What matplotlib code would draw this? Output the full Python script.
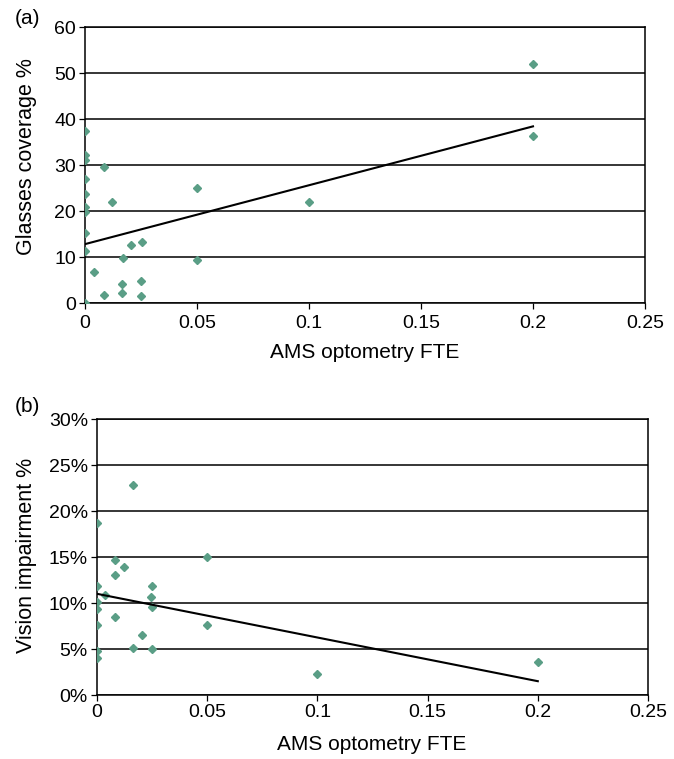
import matplotlib
matplotlib.use("Agg")
import matplotlib.pyplot as plt
from matplotlib.ticker import FuncFormatter

plt.rcParams['font.family'] = ['Liberation Sans', 'DejaVu Sans']

# (a) glasses coverage vs AMS optometry FTE
fte_a = [0, 0, 0, 0.0083, 0, 0, 0, 0, 0.012, 0.05, 0, 0, 0.0207, 0.0255,
         0.017, 0.05, 0.004, 0.0167, 0.025, 0.0083, 0.0167, 0.025, 0,
         0.1, 0.2, 0.2]
coverage_a = [37.4, 32.1, 31.0, 29.6, 27.0, 23.8, 20.8, 19.7, 22.0, 24.9,
              15.2, 11.2, 12.6, 13.2, 9.7, 9.35, 6.8, 4.1, 4.8, 1.7, 2.2,
              1.45, 0.0, 22.0, 52.0, 36.3]
trend_a_x = [0, 0.2]
trend_a_y = [12.8, 38.4]

# (b) vision impairment vs AMS optometry FTE
fte_b = [0.0162, 0, 0.05, 0.0083, 0.0124, 0.0083, 0, 0.025, 0.0038, 0.0245,
         0, 0, 0.025, 0.0083, 0, 0.05, 0.0206, 0.0162, 0.025, 0, 0,
         0.1, 0.2]
impairment_b = [22.8, 18.7, 15.0, 14.65, 13.9, 13.0, 11.8, 11.8, 10.85, 10.7,
                10.15, 9.3, 9.6, 8.5, 7.65, 7.6, 6.5, 5.15, 5.05, 4.8, 4.0,
                2.25, 3.6]
trend_b_x = [0, 0.2]
trend_b_y = [11.0, 1.5]

xticks = [0, 0.05, 0.1, 0.15, 0.2, 0.25]
xticklabels = ['0', '0.05', '0.1', '0.15', '0.2', '0.25']
marker_color = '#5a9e86'
W, H = 674, 759


def style_axes(ax):
    ax.set_xlim(0, 0.25)
    ax.set_xticks(xticks)
    ax.set_xticklabels(xticklabels)
    ax.yaxis.grid(True, color='black', linewidth=1.1)
    ax.set_axisbelow(True)
    for sp in ax.spines.values():
        sp.set_color('black')
        sp.set_linewidth(1.1)
    ax.tick_params(axis='both', direction='out', length=4.5, width=0.9,
                   labelsize=14)
    ax.tick_params(axis='x', pad=4)
    ax.tick_params(axis='y', pad=2)


fig = plt.figure(figsize=(W / 100, H / 100), dpi=100)

ax1 = fig.add_axes([85 / W, 1 - 303 / H, 560 / W, 276 / H])
ax1.plot(fte_a, coverage_a, linestyle='none', marker='D', markersize=4.5,
         color=marker_color, zorder=3)
ax1.plot(trend_a_x, trend_a_y, color='black', linewidth=1.5, zorder=4)
ax1.set_ylim(0, 60)
ax1.set_yticks(range(0, 61, 10))
style_axes(ax1)
fig.text(27 / W, 1 - 157 / H, 'Glasses coverage %', rotation=90,
         ha='center', va='center', fontsize=15.5)
fig.text(365 / W, 1 - 358 / H, 'AMS optometry FTE', ha='center',
         va='baseline', fontsize=15)
fig.text(15 / W, 1 - 24 / H, '(a)', fontsize=15, ha='left', va='baseline')

ax2 = fig.add_axes([97 / W, 1 - 695 / H, 551 / W, 276 / H])
ax2.plot(fte_b, impairment_b, linestyle='none', marker='D', markersize=4.5,
         color=marker_color, zorder=3)
ax2.plot(trend_b_x, trend_b_y, color='black', linewidth=1.5, zorder=4)
ax2.set_ylim(0, 30)
ax2.set_yticks(range(0, 31, 5))
ax2.yaxis.set_major_formatter(FuncFormatter(lambda v, p: f'{v:.0f}%'))
style_axes(ax2)
ax2.tick_params(axis='x', pad=2)
fig.text(27 / W, 1 - 555 / H, 'Vision impairment %', rotation=90,
         ha='center', va='center', fontsize=15.5)
fig.text(372 / W, 1 - 750 / H, 'AMS optometry FTE', ha='center',
         va='baseline', fontsize=15)
fig.text(15 / W, 1 - 412 / H, '(b)', fontsize=15, ha='left', va='baseline')

fig.savefig('out.png', dpi=100, facecolor='white')
